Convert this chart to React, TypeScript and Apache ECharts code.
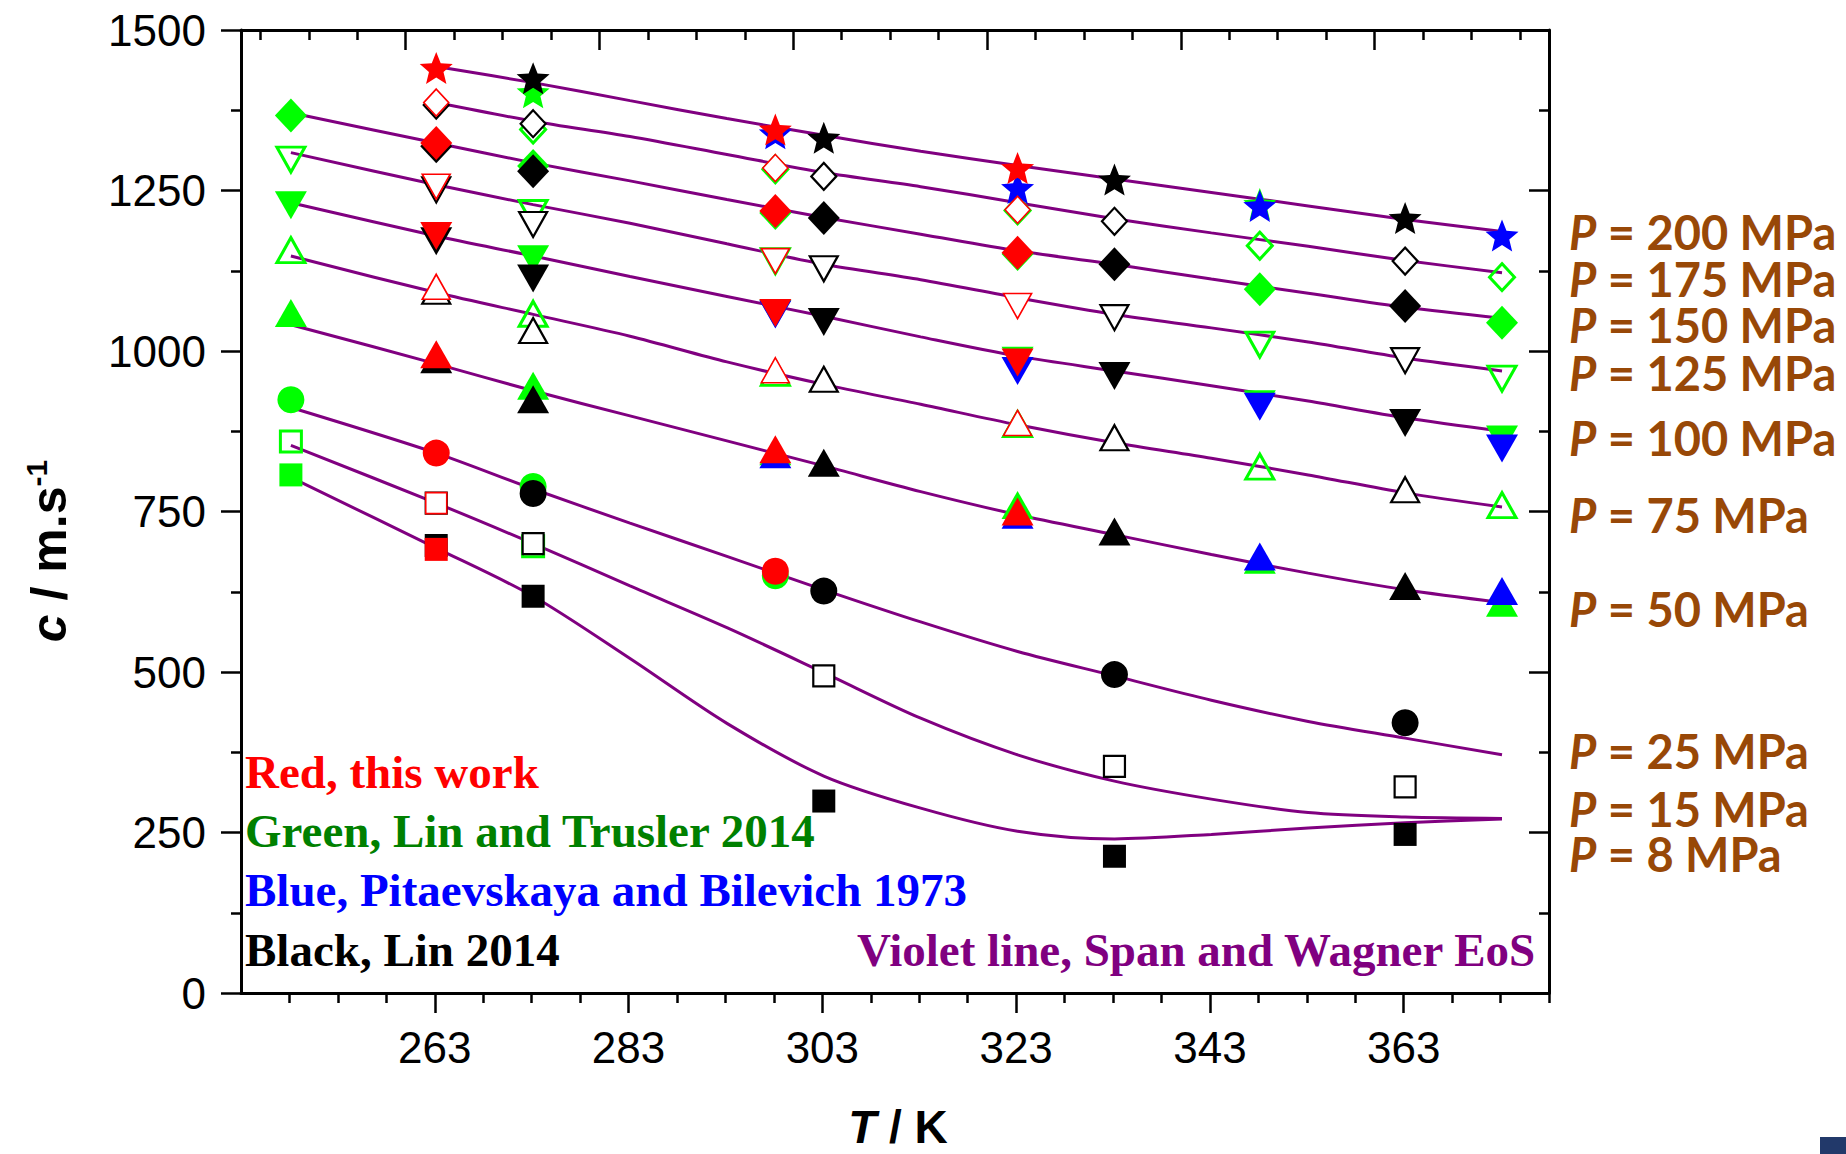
import React, { useEffect, useRef } from 'react';
import * as echarts from 'echarts';

// ---------------- axis ticks / labels ----------------
const X_LABELS = [263, 283, 303, 323, 343, 363];
const X_BOTTOM_MINOR = [248, 253, 258, 268, 273, 278, 288, 293, 298, 308, 313, 318, 328, 333, 338, 348, 353, 358, 368, 373, 378];
const X_TOP_MAJOR = [260, 280, 300, 320, 340, 360];
const X_TOP_MINOR = [245, 250, 255, 265, 270, 275, 285, 290, 295, 305, 310, 315, 325, 330, 335, 345, 350, 355, 365, 370, 375];
const X_MIN = 243;
const X_MAX = 378;
const Y_MIN = 0;
const Y_MAX = 1500;
const Y_STEP = 250;

// ---------------- pressures (rows of every data table) ----------------
const PRESSURES = [200, 175, 150, 125, 100, 75, 50, 25, 15, 8];

// ---------------- Green: Lin and Trusler 2014 ----------------
const T_GREEN = [248.15, 273.15, 298.15, 323.15, 348.15, 373.15];
const C_GREEN: (number | null)[][] = [
  [null, 1403, null, null, 1229, null], // 200
  [null, 1345, 1283, 1219, 1164, 1115], // 175
  [1367, 1288, 1215, 1151, 1096, 1044], // 150
  [1298, 1215, 1140, null, 1010, 957], // 125
  [1227, 1143, 1058, 985, 917, 862], // 100
  [1157, 1058, 966, 886, 820, 760], // 75
  [1059, 946, 844, 760, 675, 608], // 50
  [924, 789, 650, null, null, null], // 25
  [859, 696, null, null, null, null], // 15
  [807, null, null, null, null, null], // 8
];

// ---------------- Blue: Pitaevskaya and Bilevich 1973 ----------------
const T_BLUE = [298.15, 323.15, 348.15, 373.15];
const C_BLUE: (number | null)[][] = [
  [1339, 1254, 1226, 1180], // 200
  [null, null, null, null], // 175
  [null, null, null, null], // 150
  [null, null, null, null], // 125
  [1057, 969, 913, 848], // 100
  [null, null, null, null], // 75
  [839, 745, 680, 626], // 50
  [null, null, null, null], // 25
  [null, null, null, null], // 15
  [null, null, null, null], // 8
];

// ---------------- Black: Lin 2014 ----------------
const T_BLACK = [263.15, 273.15, 303.15, 333.15, 363.15];
const C_BLACK: (number | null)[][] = [
  [null, 1425, 1332, 1267, 1207], // 200
  [1383, 1354, 1272, 1202, 1140], // 175
  [1319, 1280, 1207, 1135, 1070], // 150
  [1251, 1197, 1128, 1052, 985], // 125
  [1171, 1113, 1045, 961, 888], // 100
  [1093, 1032, 956, 865, 784], // 75
  [987, 925, 826, 719, 634], // 50
  [null, 778, 626, 496, 421], // 25
  [763, 700, 494, 353, 321], // 15
  [697, 618, 299, 213, 247], // 8
];

// ---------------- Red: this work ----------------
const T_RED = [263.15, 298.15, 323.15];
const C_RED: (number | null)[][] = [
  [1441, 1345, 1285], // 200
  [1387, 1285, 1220], // 175
  [1324, 1218, 1153], // 150
  [1256, 1140, 1070], // 125
  [1179, 1059, 982], // 100
  [1100, 970, 888], // 75
  [995, 847, 750], // 50
  [841, 657, null], // 25
  [763, null, null], // 15
  [691, null, null], // 8
];

// ---------------- Violet lines: Span and Wagner EoS ----------------
const LINE_T = [248.15, 263.15, 273.15, 283.15, 293.15, 303.15, 313.15, 323.15, 333.15, 343.15, 353.15, 363.15, 373.15];
const LINE_200 = [null, 1443, 1418, 1390, 1362, 1336, 1311, 1289, 1268, 1247, 1226, 1205, 1186];
const LINE_175 = [null, 1387, 1358, 1334, 1306, 1278, 1256, 1231, 1206, 1184, 1163, 1141, 1122];
const LINE_150 = [1371, 1324, 1293, 1265, 1236, 1208, 1182, 1156, 1135, 1112, 1090, 1068, 1051];
const LINE_125 = [1309, 1259, 1228, 1199, 1167, 1135, 1111, 1083, 1057, 1036, 1014, 989, 969];
const LINE_100 = [1231, 1179, 1148, 1116, 1085, 1054, 1022, 992, 969, 946, 922, 896, 875];
const LINE_75 = [1148, 1091, 1057, 1023, 983, 948, 917, 885, 857, 833, 807, 779, 757];
const LINE_50 = [1041, 980, 938, 899, 860, 821, 781, 745, 714, 683, 654, 628, 608];
const LINE_25 = [912, 841, 785, 732, 680, 628, 578, 532, 494, 456, 423, 397, 371];
const LINE_15 = [853, 763, 700, 634, 569, 499, 428, 371, 330, 302, 281, 274, 272];
const LINE_8 = [803, 693, 618, 521, 420, 338, 288, 252, 240, 247, 257, 265, 271];
const LINES = [LINE_200, LINE_175, LINE_150, LINE_125, LINE_100, LINE_75, LINE_50, LINE_25, LINE_15, LINE_8];

// ---------------- texts ----------------
const LEGEND_TEXTS = [
  'Red, this work',
  'Green, Lin and Trusler 2014',
  'Blue, Pitaevskaya and Bilevich 1973',
  'Black, Lin 2014',
];
const EOS_TEXT = 'Violet line, Span and Wagner EoS';

// ---------------- styling / layout ----------------
const STAR = 'path://M50 0 L62.9 32.3 L97.55 34.55 L70.9 56.8 L79.39 90.45 L50 72.5 L20.61 90.45 L29.1 56.8 L2.45 34.55 L37.1 32.3 Z';
const SYMBOLS = [
  { symbol: STAR, size: [33, 32], rotate: 0, open: false },
  { symbol: 'diamond', size: [25, 27], rotate: 0, open: true },
  { symbol: 'diamond', size: [32, 34], rotate: 0, open: false },
  { symbol: 'triangle', size: [28, 25], rotate: 180, open: true },
  { symbol: 'triangle', size: [32, 28], rotate: 180, open: false },
  { symbol: 'triangle', size: [28, 25], rotate: 0, open: true },
  { symbol: 'triangle', size: [32, 28], rotate: 0, open: false },
  { symbol: 'circle', size: [27, 27], rotate: 0, open: false },
  { symbol: 'rect', size: [21, 21], rotate: 0, open: true },
  { symbol: 'rect', size: [23, 23], rotate: 0, open: false },
];
const SOURCES = [
  { name: 'Green', T: T_GREEN, C: C_GREEN, color: '#00FF00', openFill: 'rgba(255,255,255,0)', openWidth: 3 },
  { name: 'Blue', T: T_BLUE, C: C_BLUE, color: '#0000FF', openFill: '#FFFFFF', openWidth: 2.5 },
  { name: 'Black', T: T_BLACK, C: C_BLACK, color: '#000000', openFill: '#FFFFFF', openWidth: 2.2 },
  { name: 'Red', T: T_RED, C: C_RED, color: '#FF0000', openFill: '#FFFFFF', openWidth: 1.6 },
];
const LEGEND_COLORS = ['#FF0000', '#008000', '#0000FF', '#000000'];
const LEGEND_Y = [772, 831, 890, 950];
const P_LABEL_Y = [232, 279, 325, 373, 438, 515, 609, 751, 809, 854];
const BROWN = '#984807';
const VIOLET = '#800080';
const SANS = '"Liberation Sans", Arial, sans-serif';
const SERIF = '"Liberation Serif", "Times New Roman", serif';
const PFONT = 'Lato, "Open Sans", sans-serif';

const GRID = { left: 241, top: 30, width: 1308, height: 963 };

function buildOption() {
  const axisLineStyle = { color: '#000', width: 3 };
  const tickStyle = { color: '#000', width: 2.5 };

  const xAxis = [
    {
      type: 'value', min: X_MIN, max: X_MAX, position: 'bottom',
      axisLine: { show: true, onZero: false, lineStyle: axisLineStyle },
      axisTick: { show: true, inside: false, length: 20, lineStyle: tickStyle, customValues: X_LABELS },
      axisLabel: { show: true, customValues: X_LABELS, margin: 32, fontSize: 44, fontFamily: SANS, color: '#000', formatter: (v: number) => String(v) },
      splitLine: { show: false },
    },
    {
      type: 'value', min: X_MIN, max: X_MAX, position: 'bottom',
      axisLine: { show: false, onZero: false },
      axisTick: { show: true, inside: false, length: 10, lineStyle: tickStyle, customValues: X_BOTTOM_MINOR },
      axisLabel: { show: false },
      splitLine: { show: false },
    },
    {
      type: 'value', min: X_MIN, max: X_MAX, position: 'top',
      axisLine: { show: true, onZero: false, lineStyle: axisLineStyle },
      axisTick: { show: true, inside: true, length: 20, lineStyle: tickStyle, customValues: X_TOP_MAJOR },
      axisLabel: { show: false },
      splitLine: { show: false },
    },
    {
      type: 'value', min: X_MIN, max: X_MAX, position: 'top',
      axisLine: { show: false, onZero: false },
      axisTick: { show: true, inside: true, length: 10, lineStyle: tickStyle, customValues: X_TOP_MINOR },
      axisLabel: { show: false },
      splitLine: { show: false },
    },
  ];

  const yAxis = [
    {
      type: 'value', min: Y_MIN, max: Y_MAX, interval: Y_STEP, position: 'left',
      axisLine: { show: true, onZero: false, lineStyle: axisLineStyle },
      axisTick: { show: true, inside: false, length: 20, lineStyle: tickStyle },
      minorTick: { show: true, splitNumber: 2, length: 10, lineStyle: tickStyle },
      axisLabel: { show: true, margin: 35, fontSize: 44, fontFamily: SANS, color: '#000', formatter: (v: number) => String(v) },
      splitLine: { show: false },
      minorSplitLine: { show: false },
    },
    {
      type: 'value', min: Y_MIN, max: Y_MAX, interval: Y_STEP, position: 'right',
      axisLine: { show: true, onZero: false, lineStyle: axisLineStyle },
      axisTick: { show: true, inside: true, length: 20, lineStyle: tickStyle },
      minorTick: { show: true, splitNumber: 2, length: 10, lineStyle: tickStyle },
      axisLabel: { show: false },
      splitLine: { show: false },
      minorSplitLine: { show: false },
    },
  ];

  const series: any[] = [];
  PRESSURES.forEach((p, i) => {
    series.push({
      type: 'line',
      name: `EoS ${p} MPa`,
      xAxisIndex: 0,
      yAxisIndex: 0,
      data: LINE_T.map((t, j) => [t, LINES[i][j]]).filter((d) => d[1] != null),
      smooth: 0.3,
      showSymbol: false,
      symbol: 'none',
      silent: true,
      lineStyle: { color: VIOLET, width: 3 },
      z: 2,
    });
  });

  SOURCES.forEach((src) => {
    PRESSURES.forEach((p, i) => {
      const data = src.T.map((t, j) => [t, src.C[i][j]]).filter((d) => d[1] != null);
      if (!data.length) return;
      const s = SYMBOLS[i];
      series.push({
        type: 'scatter',
        name: `${src.name} ${p} MPa`,
        xAxisIndex: 0,
        yAxisIndex: 0,
        data,
        symbol: s.symbol,
        symbolSize: s.size,
        symbolRotate: s.rotate,
        silent: true,
        itemStyle: s.open
          ? { color: src.openFill, borderColor: src.color, borderWidth: src.openWidth, opacity: 1 }
          : { color: src.color, borderWidth: 0, opacity: 1 },
        z: 3,
      });
    });
  });

  const graphic: any[] = [];

  // y-axis title
  graphic.push({
    type: 'text', x: 49, y: 551, rotation: Math.PI / 2, silent: true,
    style: {
      text: '{c|c}{t| / m.s}{s|-1}',
      align: 'center', verticalAlign: 'middle', textAlign: 'center', textVerticalAlign: 'middle',
      rich: {
        c: { fontFamily: SANS, fontSize: 50, fontWeight: 'bold', fontStyle: 'italic', fill: '#000', lineHeight: 56 },
        t: { fontFamily: SANS, fontSize: 50, fontWeight: 'bold', fill: '#000', lineHeight: 56 },
        s: { fontFamily: SANS, fontSize: 30, fontWeight: 'bold', fill: '#000', lineHeight: 30, verticalAlign: 'top' },
      },
    },
  });

  // x-axis title
  graphic.push({
    type: 'text', x: 898, y: 1127, silent: true,
    style: {
      text: '{i|T}{t| / K}',
      align: 'center', verticalAlign: 'middle', textAlign: 'center', textVerticalAlign: 'middle',
      rich: {
        i: { fontFamily: SANS, fontSize: 46, fontWeight: 'bold', fontStyle: 'italic', fill: '#000', lineHeight: 40 },
        t: { fontFamily: SANS, fontSize: 46, fontWeight: 'bold', fill: '#000', lineHeight: 40 },
      },
    },
  });

  // pressure labels
  PRESSURES.forEach((p, i) => {
    graphic.push({
      type: 'text', x: 1569, y: P_LABEL_Y[i], silent: true,
      style: {
        text: `{p|P}{t| = ${p} MPa}`,
        align: 'left', verticalAlign: 'middle', textAlign: 'left', textVerticalAlign: 'middle',
        rich: {
          p: { fontFamily: PFONT, fontSize: 47, fontWeight: 'bold', fontStyle: 'italic', fill: BROWN, lineHeight: 40 },
          t: { fontFamily: PFONT, fontSize: 47, fontWeight: 'bold', fill: BROWN, lineHeight: 40 },
        },
      },
    });
  });

  // source legend texts
  LEGEND_TEXTS.forEach((txt, i) => {
    graphic.push({
      type: 'text', x: 245, y: LEGEND_Y[i], silent: true,
      style: {
        text: txt,
        fontFamily: SERIF, fontSize: 47, fontWeight: 'bold', fill: LEGEND_COLORS[i], lineHeight: 48,
        align: 'left', verticalAlign: 'middle', textAlign: 'left', textVerticalAlign: 'middle',
      },
    });
  });
  graphic.push({
    type: 'text', x: 857, y: 950, silent: true,
    style: {
      text: EOS_TEXT,
      fontFamily: SERIF, fontSize: 47, fontWeight: 'bold', fill: VIOLET, lineHeight: 48,
      align: 'left', verticalAlign: 'middle', textAlign: 'left', textVerticalAlign: 'middle',
    },
  });

  // slide corner decoration
  graphic.push({
    type: 'rect', silent: true,
    shape: { x: 1820, y: 1137, width: 26, height: 17 },
    style: { fill: '#22396A' },
  });

  return {
    animation: false,
    backgroundColor: '#FFFFFF',
    grid: { ...GRID, containLabel: false, outerBoundsMode: 'none' },
    xAxis,
    yAxis,
    series,
    graphic,
  };
}

export default function App() {
  const ref = useRef<HTMLDivElement | null>(null);
  useEffect(() => {
    if (!ref.current) return;
    const chart = echarts.init(ref.current, undefined, { renderer: 'svg' });
    chart.setOption(buildOption() as any);
    return () => {
      chart.dispose();
    };
  }, []);
  return (
    <div
      ref={ref}
      style={{ position: 'absolute', left: 0, top: 0, width: 1846, height: 1154, background: '#fff' }}
    />
  );
}
